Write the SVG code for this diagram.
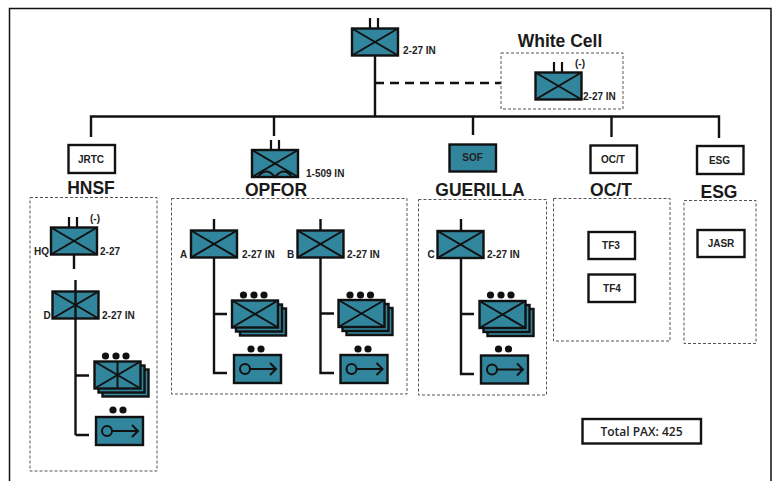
<svg xmlns="http://www.w3.org/2000/svg" xmlns:xlink="http://www.w3.org/1999/xlink" width="773" height="481" viewBox="0 0 773 481">
<style>
text{font-family:"Liberation Sans",Arial,sans-serif;font-weight:700;fill:#222}
.l{font-size:10px}
.c{font-size:10px;text-anchor:middle}
.h{font-size:17.5px;text-anchor:middle;fill:#1a1a1a}
.u{fill:#31859c;stroke:#111;stroke-width:2.400}
.x{fill:none;stroke:#111;stroke-width:2}
.w{fill:#fff;stroke:#111;stroke-width:2.400}
.d{fill:none;stroke:#555;stroke-width:1;stroke-dasharray:3 2}
.t{fill:none;stroke:#111;stroke-width:2.200}
.cn{fill:none;stroke:#111;stroke-width:2.400}
</style>
<defs>
<g id="inf"><rect class="u" x="0" y="0" width="46" height="27"/><path class="x" d="M0,0L46,27M46,0L0,27"/></g>
<g id="stack"><rect class="u" x="8" y="8" width="46" height="27"/><rect class="u" x="4" y="4" width="46" height="27"/><use href="#inf"/></g>
<g id="key"><rect class="u" x="0" y="0" width="47" height="28"/><circle class="x" cx="11" cy="14" r="5"/><path class="x" d="M16,14H41M36,8L42,14L36,20"/></g>
<g id="d3"><circle cx="0" cy="0" r="3.600" fill="#111"/><circle cx="10.500" cy="0" r="3.600" fill="#111"/><circle cx="20.500" cy="0" r="3.600" fill="#111"/></g>
<g id="d2"><circle cx="0" cy="0" r="3.600" fill="#111"/><circle cx="10" cy="0" r="3.600" fill="#111"/></g>
</defs>
<rect width="773" height="481" fill="#fff"/>
<path id="frame" d="M9.500,481V8.500H771V481" fill="none" stroke="#111" stroke-width="1.500"/>
<g id="connectors">
<path class="cn" d="M375,56V116.500M91,137V116.500H719V138M274,116.500V136M473,116.500V135M611.500,116.500V137"/>
<path class="cn" d="M375,83H501" stroke-dasharray="9 6"/>
<path class="cn" d="M74,255V269M75.500,375.500H89M75.500,435H89"/>
<path class="cn" d="M214,219V373H227M214,314H227"/>
<path class="cn" d="M320.500,219V373H334M320.500,313.500H334"/>
<path class="cn" d="M461,219V374H474M461,314H474"/>
</g>
<g id="hq-2-27-in"><path class="t" d="M370,18V28M378,18V28"/><use href="#inf" x="352" y="28.500"/><text class="l" x="403" y="54">2-27 IN</text></g>
<g id="white-cell"><text class="h" x="560" y="47">White Cell</text><rect class="d" x="501" y="53" width="122" height="56"/><path class="t" d="M554,62V72M562,62V72"/><use href="#inf" x="535.500" y="72.500"/><text class="l" x="575" y="67">(-)</text><text class="l" x="583" y="100">2-27 IN</text></g>
<g id="jrtc"><rect class="w" x="68.500" y="145" width="46.500" height="28"/><text class="c" x="91" y="163">JRTC</text></g>
<g id="opfor-hq"><path class="t" d="M271,140V150M279,140V150"/><use href="#inf" x="252" y="150"/><path class="x" d="M258,177Q266,166 275,177Q284,166 292,177"/><text class="l" x="306" y="177">1-509 IN</text></g>
<g id="sof"><rect class="u" x="449.500" y="144.500" width="46.500" height="27"/><text class="c" x="472.500" y="161">SOF</text></g>
<g id="oct"><rect class="w" x="590.500" y="145.500" width="46.500" height="27.500"/><text class="c" x="613" y="163">OC/T</text></g>
<g id="esg"><rect class="w" x="697" y="146" width="46.500" height="28"/><text class="c" x="719.500" y="164">ESG</text></g>
<g id="hnsf"><text class="h" x="91" y="194">HNSF</text><rect class="d" x="30" y="197.500" width="127" height="273.500"/>
<path class="t" d="M69,217V227M77,217V227"/><use href="#inf" x="51" y="227.500"/><text class="l" x="90" y="222">(-)</text><text class="l" x="34" y="255">HQ</text><text class="l" x="100" y="255">2-27</text>
<use href="#inf" x="52.500" y="291.500"/><path class="cn" d="M75.500,280V435"/><text class="l" x="43.500" y="319">D</text><text class="l" x="102" y="319">2-27 IN</text>
<use href="#stack" x="94.500" y="361.500"/><path class="x" d="M117.500,361.500V388.500"/><use href="#d3" x="105.500" y="356"/>
<use href="#key" x="96" y="417"/><use href="#d2" x="113" y="410"/></g>
<g id="opfor"><text class="h" x="276" y="196">OPFOR</text><rect class="d" x="171.500" y="198.500" width="235.500" height="195.500"/>
<use href="#inf" x="191" y="230.500"/><text class="l" x="180" y="258">A</text><text class="l" x="242" y="258">2-27 IN</text>
<use href="#stack" x="232" y="300.500"/><use href="#d3" x="243.500" y="295"/><use href="#key" x="234" y="355"/><use href="#d2" x="251" y="349"/>
<use href="#inf" x="297.500" y="230.500"/><text class="l" x="287" y="258">B</text><text class="l" x="347" y="258">2-27 IN</text>
<use href="#stack" x="338.500" y="300"/><use href="#d3" x="350" y="295"/><use href="#key" x="340.500" y="355"/><use href="#d2" x="358" y="349"/></g>
<g id="guerilla"><text class="h" x="480" y="196">GUERILLA</text><rect class="d" x="418.500" y="199.500" width="128" height="195.500"/>
<use href="#inf" x="437.500" y="231"/><text class="l" x="427.500" y="258">C</text><text class="l" x="487" y="258">2-27 IN</text>
<use href="#stack" x="479.500" y="301"/><use href="#d3" x="490.500" y="295"/><use href="#key" x="481" y="355.500"/><use href="#d2" x="498.500" y="349"/></g>
<g id="oct-cell"><text class="h" x="611" y="196">OC/T</text><rect class="d" x="553.500" y="198.500" width="116.500" height="142.500"/>
<rect class="w" x="588.500" y="232" width="46.500" height="27"/><text class="c" x="611" y="249">TF3</text>
<rect class="w" x="588.500" y="274.500" width="46.500" height="27.500"/><text class="c" x="612" y="292">TF4</text></g>
<g id="esg-cell"><text class="h" x="719" y="198">ESG</text><rect class="d" x="684" y="200.500" width="72" height="143"/>
<rect class="w" x="697.500" y="230" width="47" height="27"/><text class="c" x="721" y="247">JASR</text></g>
<g id="total-pax"><rect class="w" x="582.500" y="419" width="118.500" height="24.500"/><text x="641.500" y="435.500" text-anchor="middle" style="font-family:'Open Sans','Noto Sans',sans-serif;font-size:12px;font-weight:600">Total PAX: 425</text></g>
</svg>
